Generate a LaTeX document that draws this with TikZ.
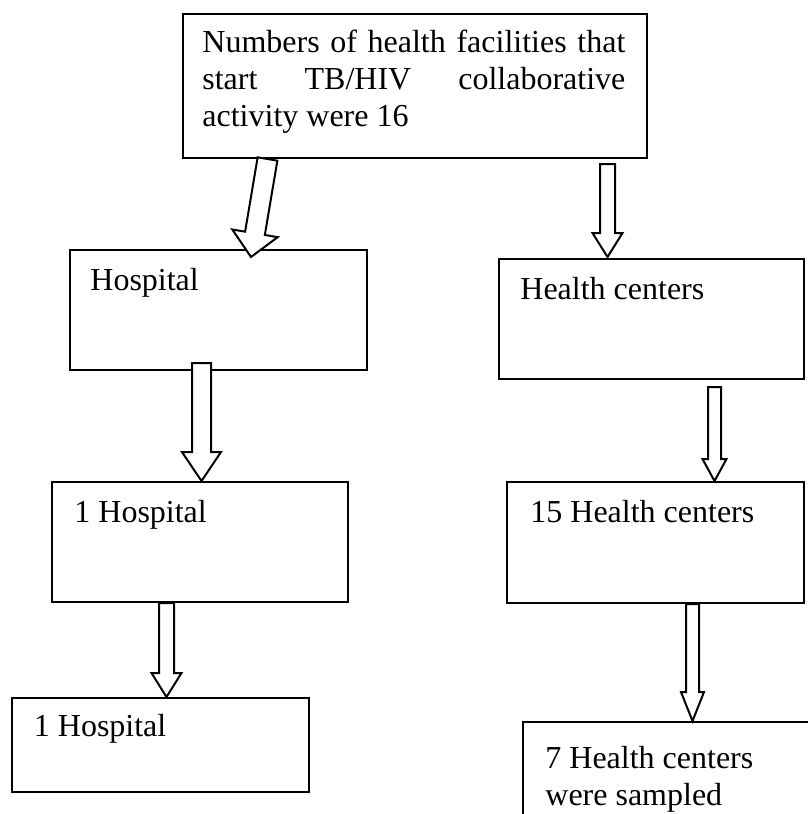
\documentclass[tikz,border=0pt]{standalone}
\usepackage{fontspec}
\setmainfont{Liberation Serif}
\usetikzlibrary{calc,positioning}

\tikzset{
  box/.style={draw, line width=1pt, inner sep=0pt, anchor=north west},
  boxtext/.style={anchor=north west, inner sep=0pt, align=left, font=\fontsize{16}{18.5}\selectfont},
  hollow/.style={draw, fill=white, line width=1pt}
}

% hollow block arrow: tail, tip, shaft half width, head half width, head length
\newcommand{\hollowarrow}[5]{%
  \path[hollow] let \p1=($(#2)-(#1)$), \n1={veclen(\x1,\y1)}, \n2={atan2(\y1,\x1)} in
    [shift={(#1)}, rotate=\n2]
    (0pt,-#3) -- ({\n1*1pt-#5},-#3) -- ({\n1*1pt-#5},-#4) -- ({\n1*1pt},0pt)
    -- ({\n1*1pt-#5},#4) -- ({\n1*1pt-#5},#3) -- (0pt,#3) -- cycle;}

\begin{document}
\begin{tikzpicture}[x=0.5pt,y=-0.5pt]
          \clip (0,0) rectangle (808,814);
          \fill[white] (0,0) rectangle (808,814);
          \begin{scope}
            % boxes
            \node[box, minimum width=232pt, minimum height=72pt] (top) at (182,13) {};
            \node[box, minimum width=148.5pt, minimum height=60pt] (hosp) at (69,249) {};
            \node[box, minimum width=152.5pt, minimum height=60pt] (hc) at (498,258) {};
            \node[box, minimum width=148pt, minimum height=60pt] (hosp1) at (51,481) {};
            \node[box, minimum width=148.5pt, minimum height=60.5pt] (hc15) at (506,481) {};
            \node[box, minimum width=148.5pt, minimum height=47pt] (hosp2) at (11,697) {};
            \node[box, minimum width=150pt, minimum height=60pt] (hc7) at (522,721) {};
            % texts
            \node[boxtext, text width=211.5pt, align=justify] at ($(top.north west)+(20,17)$)
              {\makebox[211.5pt][s]{Numbers of health facilities that}\\
               \makebox[211.5pt][s]{start TB/HIV collaborative}\\
               activity were 16};
            \node[boxtext] at ($(hosp.north west)+(21,19)$) {Hospital};
            \node[boxtext] at ($(hc.north west)+(22,19)$) {Health centers};
            \node[boxtext] at ($(hosp1.north west)+(23,19)$) {1 Hospital};
            \node[boxtext] at ($(hc15.north west)+(24,19)$) {15 Health centers};
            \node[boxtext] at ($(hosp2.north west)+(22.5,17)$) {1 Hospital};
            \node[boxtext] at ($(hc7.north west)+(23,25)$) {7 Health centers\\were sampled};
          \end{scope}
          \begin{scope}
            % arrow ends
            \coordinate (tail1) at ($(top.south west)+(85.5,0)$);
            \coordinate (tip1) at ($(hosp.north west)+(182,8)$);
            \coordinate (tail2) at ($(top.south west)+(425.5,5)$);
            \coordinate (tip2) at ($(hc.north west)+(109.5,-1)$);
            \coordinate (tail3) at ($(hosp.south west)+(132.5,-8)$);
            \coordinate (tip3) at ($(hosp1.north west)+(150.5,0)$);
            \coordinate (tail4) at ($(hc.south west)+(216.5,7)$);
            \coordinate (tip4) at ($(hc15.north west)+(208.5,0)$);
            \coordinate (tail5) at ($(hosp1.south west)+(115.5,0)$);
            \coordinate (tip5) at ($(hosp2.north west)+(155.5,0)$);
            \coordinate (tail6) at ($(hc15.south west)+(186.5,0)$);
            \coordinate (tip6) at ($(hc7.north west)+(170.5,0)$);
            \hollowarrow{tail1}{tip1}{5pt}{11.5pt}{12pt}
            \hollowarrow{tail2}{tip2}{3.75pt}{7.5pt}{12pt}
            \hollowarrow{tail3}{tip3}{4.75pt}{9.75pt}{14.5pt}
            \hollowarrow{tail4}{tip4}{3.25pt}{6pt}{11pt}
            \hollowarrow{tail5}{tip5}{3.75pt}{7.5pt}{12pt}
            \hollowarrow{tail6}{tip6}{3.25pt}{5.75pt}{14.5pt}
          \end{scope}
        \end{tikzpicture}
\end{document}
